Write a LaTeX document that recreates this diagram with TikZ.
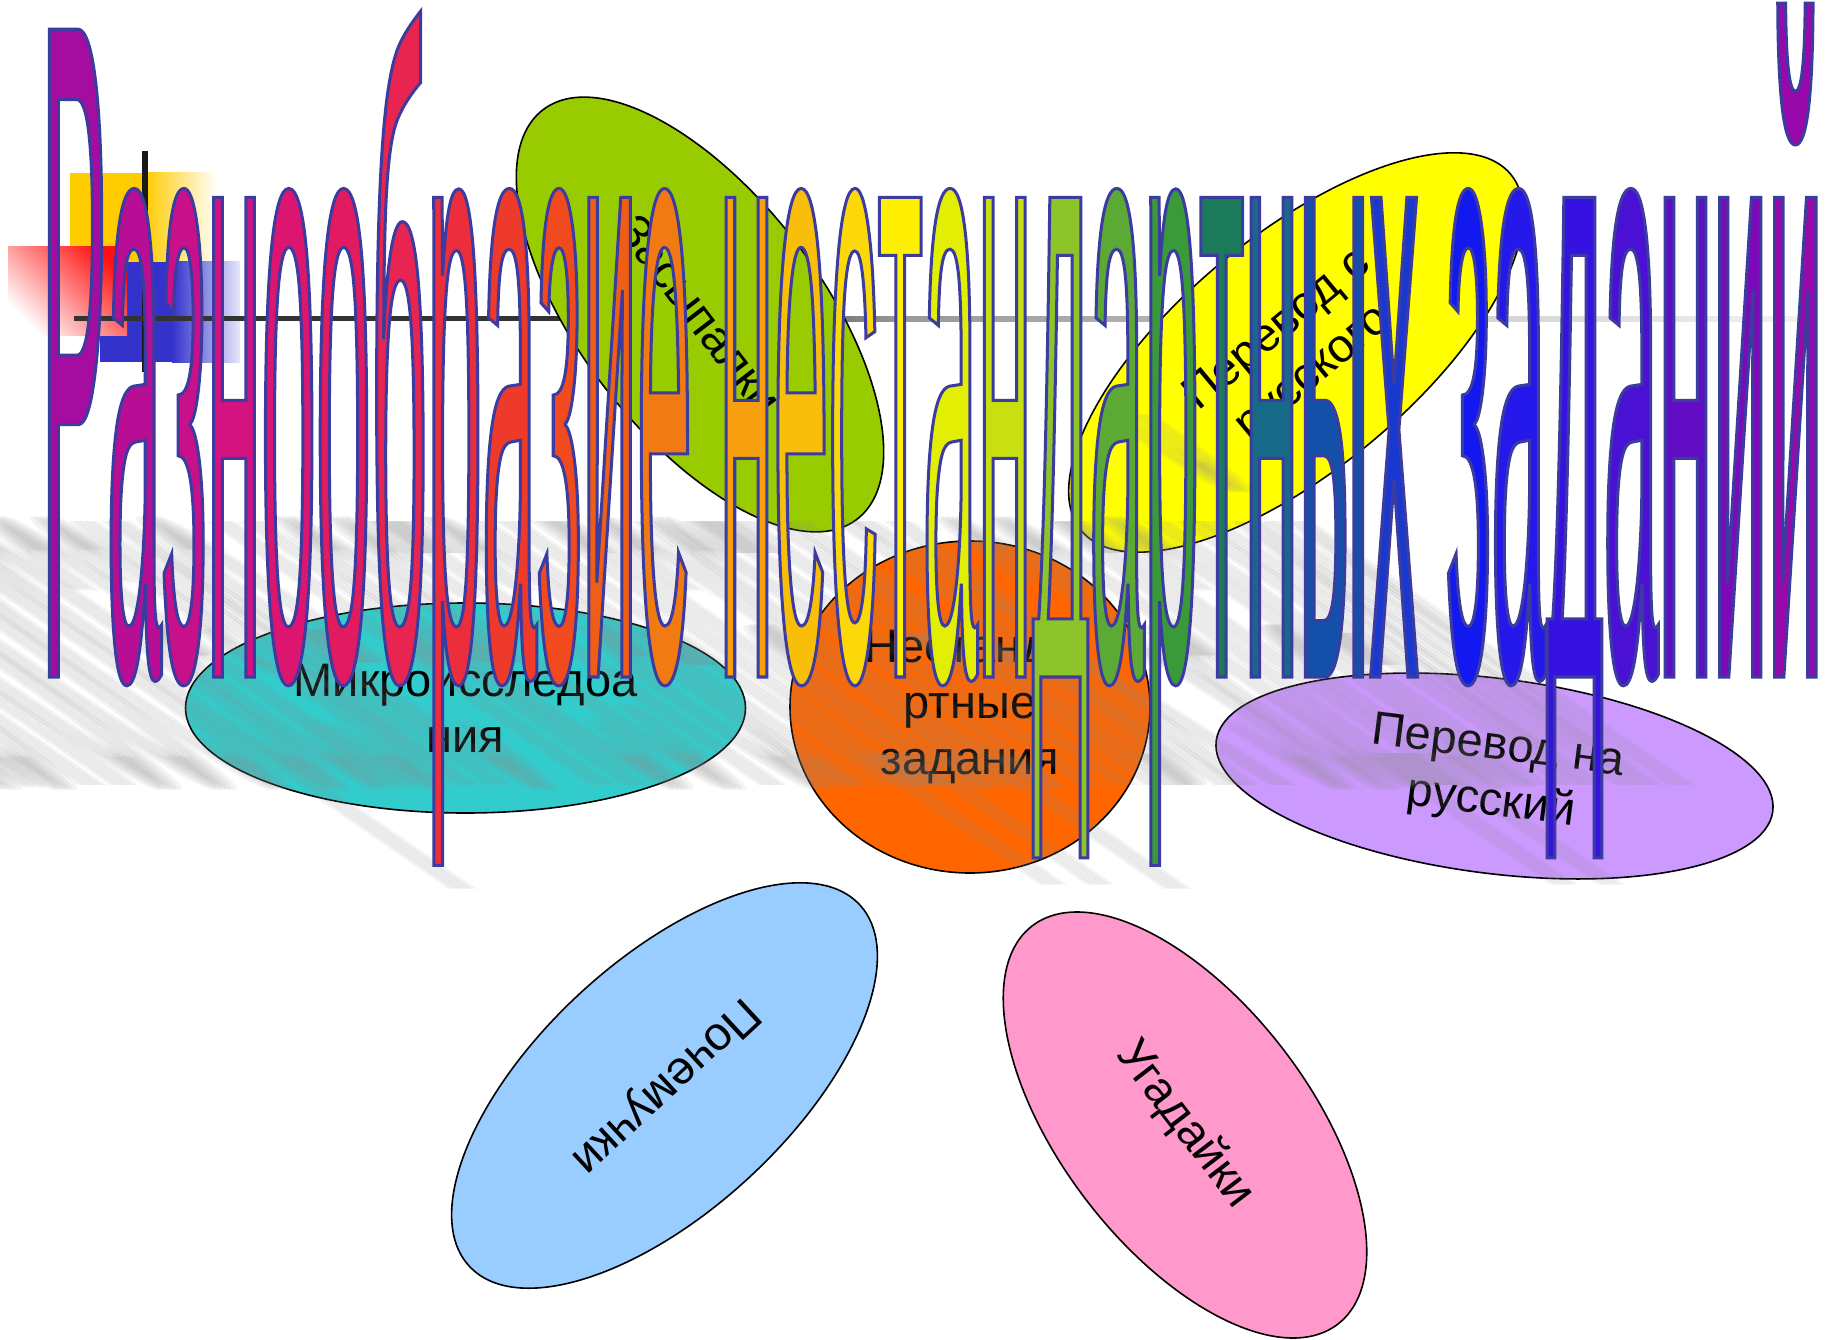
\documentclass[tikz,border=0pt]{standalone}
\usepackage{fontspec}
\usepackage{graphicx}
\setmainfont{Liberation Sans}
\newfontfamily\titlefont[FakeStretch=0.1085]{Liberation Sans}
\newfontfamily\labfont{Liberation Sans}
\usetikzlibrary{shapes.geometric}

\definecolor{sqyel}{HTML}{FFCC00}
\definecolor{sqblu}{HTML}{3333CC}
\definecolor{sqred}{HTML}{FF1010}
\definecolor{elgrn}{HTML}{99CC00}
\definecolor{elyel}{HTML}{FFFF00}
\definecolor{elcya}{HTML}{33CCCC}
\definecolor{elora}{HTML}{FF6600}
\definecolor{elpur}{HTML}{CC99FF}
\definecolor{ellbl}{HTML}{99CCFF}
\definecolor{elpnk}{HTML}{FF99CC}
\definecolor{linedark}{HTML}{333333}

\newcommand\TL[2]{{\color[HTML]{#1}\special{pdf:literal direct 0.235 0.235 0.627 RG}#2}}
\newcommand\titletext{\titlefont\fontsize{908}{1000}\selectfont
\special{pdf:literal direct 2 Tr 3 w}%
\TL{A50DA0}{\scalebox{1}[1.037]{Р}}\TL{B80E95}{а}\TL{C8108A}{з}\TL{D41280}{н}\TL{DC1670}{о}\TL{E21A60}{о}\TL{E82550}{б}\TL{EC2E3C}{р}\TL{EE3A2A}{а}\TL{F04A1E}{з}\TL{F05E16}{и}\TL{F27A12}{е} \TL{F6A010}{н}\TL{F9BE0A}{е}\TL{FCD808}{с}\TL{FEF000}{т}\TL{E2EE04}{а}\TL{C8E010}{н}\TL{8CC42A}{д}\TL{5CAA35}{а}\TL{3A9A3A}{р}\TL{1A7A5A}{т}\TL{166A88}{н}\TL{1450AA}{ы}\TL{1838D0}{х} \TL{1218F0}{з}\TL{2418EA}{а}\TL{3612E0}{д}\TL{4A10D4}{а}\TL{620CC6}{н}\TL{7C0AB8}{и}\TL{9808AA}{й}%
\special{pdf:literal direct 0 Tr}}
\newcommand\shadowtext{\titlefont\fontsize{908}{1000}\selectfont Разнообразие нестандартных заданий}

\begin{document}
\begin{tikzpicture}[x=1pt,y=-1pt,
  ell/.style={ellipse, draw=black, line width=1.6pt, inner sep=0pt, align=center, text=black,
    font=\labfont\fontsize{47}{56}\selectfont}]
\path[use as bounding box, fill=white] (0,0) rectangle (1825,1340);
\clip (0,0) rectangle (1825,1340);

% decorative squares
\fill[sqyel] (70,173) rectangle (145,262);
\shade[left color=sqyel, right color=white] (145,173) rectangle (217,262);
\fill[sqblu] (100,262) rectangle (172,362);
\shade[left color=sqblu, right color=sqblu!12] (172,262) rectangle (240,362);
\shade[top color=sqred, bottom color=white, shading angle=-45] (8,247) rectangle (127,335);

% lines
\fill[black!90] (142,151) rectangle (148,372);
\fill[linedark] (74,316) rectangle (700,321);
\shade[left color=linedark, right color=black!40] (700,316) rectangle (900,321);
\shade[left color=black!40, right color=black!5] (900,316) rectangle (1800,321);

% ellipses
\node[ell, fill=elgrn, minimum width=516pt, minimum height=240pt, rotate=-52.5] (zas) at (700,314.5) {Засыпалки};
\node[ell, fill=elyel, minimum width=558pt, minimum height=234pt, rotate=39.7] (pers) at (1296,352.5) {Перевод с\\русского};
\node[ell, fill=elcya, minimum width=560pt, minimum height=210pt] (mik) at (465.5,708) {Микроисследоа\\ния};
\node[ell, fill=elora, minimum width=360pt, minimum height=332pt] (nes) at (970,707) {Нестанда\\ртные\\задания};
\node[ell, fill=elpur, minimum width=561pt, minimum height=195pt, rotate=-7.2] (pern) at (1494.5,776) {Перевод на\\русский};
\node[ell, fill=ellbl, minimum width=532pt, minimum height=250pt, rotate=222.8] (poch) at (664.5,1085.5) {Почемучки};
\node[ell, fill=elpnk, minimum width=502pt, minimum height=248pt, rotate=-52.5] (ugad) at (1185,1125) {Угадайки};

% blurred shadow of the title
\foreach \d [count=\i] in {-10,-5,0,5,10} {
  \begin{scope}[shift={(-80+\d,785)}, xslant=-1.45, yscale=0.55]
    \node[anchor=base west, inner sep=0pt, transform shape, text=black!45, opacity=0.1] (shadow\i) at (0,0) {\shadowtext};
  \end{scope}
}

% title
\node[anchor=base west, inner sep=0pt] (title) at (41,677) {\titletext};
\end{tikzpicture}
\end{document}
